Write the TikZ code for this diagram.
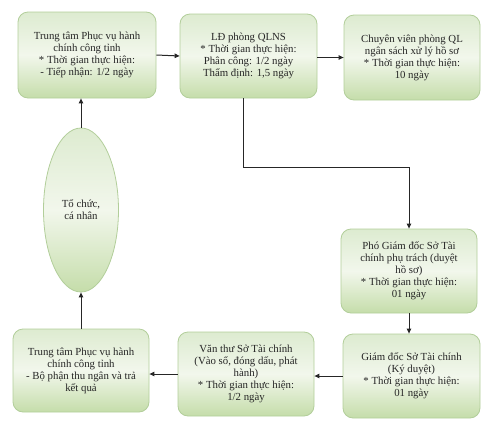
\documentclass[tikz,border=0pt]{standalone}
\usepackage{fontspec}
\setmainfont{Liberation Serif}
\usetikzlibrary{arrows.meta,shapes.geometric,calc}
\begin{document}
\begin{tikzpicture}[x=1pt,y=-1pt,
  box/.style={draw=boxline, line width=0.8pt, rounded corners=10pt,
    top color=boxtop, bottom color=boxbot, middle color=boxmid,
    minimum width=#1, align=center, inner sep=2pt,
    font=\fontsize{10.8}{12}\selectfont, text=black!85},
  arr/.style={line width=1pt, draw=black!85, -{Triangle[length=5pt,width=4.5pt]}},
]
\definecolor{boxline}{HTML}{B2CE9A}
\definecolor{boxtop}{HTML}{DDEBD0}
\definecolor{boxmid}{HTML}{F2F7EC}
\definecolor{boxbot}{HTML}{C5DDAA}
\useasboundingbox (0,0) rectangle (488,426);

\node[box=138pt, minimum height=86pt] (b1) at (87,55)
  {Trung tâm Phục vụ hành\\chính công tỉnh\\* Thời gian thực hiện:\\- Tiếp nhận: 1/2 ngày};
\node[box=137pt, minimum height=84pt] (b2) at (248.5,56)
  {LĐ phòng QLNS\\* Thời gian thực hiện:\\Phân công: 1/2 ngày\\Thẩm định: 1,5 ngày};
\node[box=136pt, minimum height=85pt] (b3) at (412,57.5)
  {Chuyên viên phòng QL\\ngân sách xử lý hồ sơ\\* Thời gian thực hiện:\\10 ngày};
\node[box=136pt, minimum height=84pt] (b4) at (409,271)
  {Phó Giám đốc Sở Tài\\chính phụ trách (duyệt\\hồ sơ)\\* Thời gian thực hiện:\\01 ngày};
\node[box=137pt, minimum height=84pt] (b5) at (411.5,376)
  {Giám đốc Sở Tài chính\\(Ký duyệt)\\* Thời gian thực hiện:\\01 ngày};
\node[box=136pt, minimum height=84pt] (b6) at (246,374)
  {Văn thư Sở Tài chính\\(Vào sổ, đóng dấu, phát\\hành)\\* Thời gian thực hiện:\\1/2 ngày};
\node[box=136pt, minimum height=83pt] (b7) at (81,370.5)
  {Trung tâm Phục vụ hành\\chính công tỉnh\\- Bộ phận thu ngân và trả\\kết quả};
\node[ellipse, draw=boxline, line width=0.8pt, top color=boxtop, bottom color=boxbot,
  middle color=boxmid, minimum width=75pt, minimum height=164pt, inner sep=0pt,
  align=center, font=\fontsize{10.8}{12}\selectfont, text=black!85] (e) at (81,210)
  {Tổ chức,\\cá nhân};

\coordinate (bend) at (243,167);
\draw[arr] (b1.east) -- (b2.west);
\draw[arr] (b2.east |- b3.west) -- (b3.west);
\draw[arr] (b2.south -| bend) -- (bend) -| (b4.north);
\draw[arr] (b4.south) -- (b4.south |- b5.north);
\draw[arr] (b5.west) -- (b5.west -| b6.east);
\draw[arr] (b6.west) -- (b6.west -| b7.east);
\draw[arr] (b7.north -| e.south) -- (e.south);
\draw[arr] (e.north) -- (e.north |- b1.south);
\end{tikzpicture}
\end{document}
